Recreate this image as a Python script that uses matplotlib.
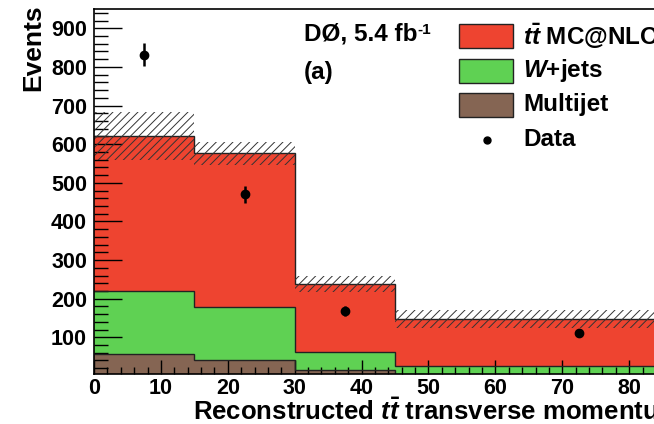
import matplotlib.pyplot as plt
import numpy as np
from matplotlib.ticker import MultipleLocator

plt.rcParams['font.family'] = ['Liberation Sans', 'DejaVu Sans']
plt.rcParams['font.weight'] = 'bold'
plt.rcParams['mathtext.fontset'] = 'custom'
plt.rcParams['mathtext.it'] = 'Liberation Sans:italic:bold'
plt.rcParams['mathtext.rm'] = 'Liberation Sans:bold'
plt.rcParams['hatch.linewidth'] = 0.7

# bin edges [GeV]
edges = [0, 15, 30, 45, 100]
# stacked contributions per bin
multijet = [57, 40, 14.5, 2]
wjets = [164, 139, 46.5, 25]
ttbar = [400, 397, 177, 121]
syst = [63, 30, 20, 23]
# data
data_y = [832, 470, 167, 110]
data_err = [29, 21, 13, 9]

RED = '#EE4430'
GREEN = '#5FD153'
BROWN = '#856553'
YMIN = 5

edges = np.array(edges, dtype=float)
mj = np.array(multijet)
wj = mj + np.array(wjets)
tot = wj + np.array(ttbar)
centers = 0.5 * (edges[:-1] + edges[1:])

fig = plt.figure(figsize=(6.54, 4.24), dpi=100)
# axes run past the right edge (the reference is cropped there)
ax = fig.add_axes([94 / 654, 50 / 424, 669 / 654, 365 / 424])

# stacked histograms
for vals, col in [(tot, RED), (wj, GREEN), (mj, BROWN)]:
    ax.stairs(vals, edges, baseline=YMIN, fill=True, color=col, zorder=1)
    ax.stairs(vals, edges, baseline=None, color='#222222', lw=1.0, zorder=2)

# systematic uncertainty band
ax.bar(centers, 2 * np.array(syst), width=np.diff(edges), bottom=tot - np.array(syst),
       fill=False, hatch='////', edgecolor='#333333', linewidth=0, zorder=3)

# data
ax.errorbar(centers, data_y, yerr=data_err, fmt='o', color='black', ms=6,
            elinewidth=1.8, capsize=0, zorder=4)

ax.set_xlim(0, 100)
ax.set_ylim(YMIN, 950)
ax.xaxis.set_major_locator(MultipleLocator(10))
ax.xaxis.set_minor_locator(MultipleLocator(2))
ax.yaxis.set_minor_locator(MultipleLocator(20))
ax.set_yticks(np.arange(100, 1000, 100))
ax.tick_params(axis='x', which='major', direction='in', length=10, width=1, labelsize=15.5, pad=3)
ax.tick_params(axis='x', which='minor', direction='in', length=5, width=1)
ax.tick_params(axis='y', which='major', direction='in', length=20, width=1, labelsize=15.5, pad=5)
ax.tick_params(axis='y', which='minor', direction='in', length=10, width=1)
for lab in ax.get_xticklabels() + ax.get_yticklabels():
    lab.set_fontweight('bold')
for sp in ax.spines.values():
    sp.set_linewidth(1.2)
    sp.set_zorder(5)

fig.text(193 / 654, 1 - 411 / 424, r'Reconstructed $t\bar{t}$ transverse momentum [GeV]',
         fontsize=18.5, fontweight='bold', ha='left', va='center')
fig.text(33 / 654, 1 - 4 / 424, 'Events', rotation=90, fontsize=19,
         fontweight='bold', ha='center', va='top')

# experiment label with small "-1" superscript
d0 = fig.text(304 / 654, 1 - 34 / 424, 'DØ, 5.4 fb', fontsize=17.5,
              fontweight='bold', ha='left', va='center')
ax.annotate('-1', xy=(1.0, 1.0), xycoords=d0, fontsize=11, fontweight='bold',
            ha='left', va='top', annotation_clip=False)
fig.text(304 / 654, 1 - 72 / 424, '(a)', fontsize=17.5, fontweight='bold',
         ha='left', va='center')

# legend drawn by hand in figure pixels
legend_rows = [(r'$t\bar{t}$ MC@NLO', RED, 36), (r'$W$+jets', GREEN, 71), ('Multijet', BROWN, 105)]
for label, col, yc in legend_rows:
    fig.patches.append(plt.Rectangle((459 / 654, 1 - (yc + 12) / 424), 54 / 654, 24 / 424,
                                     transform=fig.transFigure, facecolor=col,
                                     edgecolor='#222222', lw=1.0))
    fig.text(523 / 654, 1 - yc / 424, label, fontsize=17.5, fontweight='bold',
             ha='left', va='center')
fig.lines.append(plt.Line2D([487 / 654], [1 - 140 / 424], marker='o', ms=5, color='black',
                            transform=fig.transFigure))
fig.text(523 / 654, 1 - 139 / 424, 'Data', fontsize=17.5, fontweight='bold',
         ha='left', va='center')

fig.savefig('out.png', dpi=100)
